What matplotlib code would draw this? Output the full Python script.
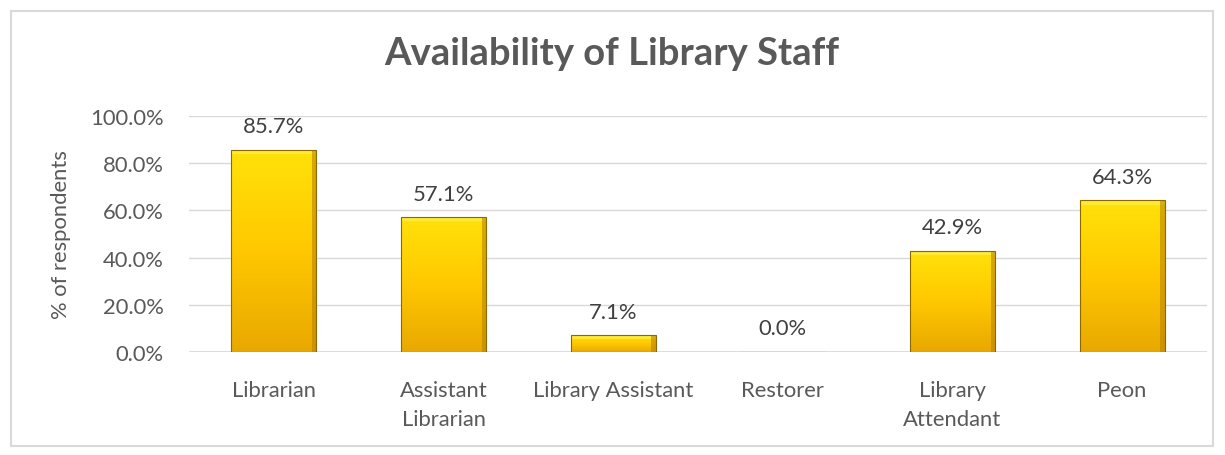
import matplotlib.pyplot as plt
from matplotlib.patches import Rectangle
from matplotlib.colors import LinearSegmentedColormap
import numpy as np

categories = ['Librarian', 'Assistant\nLibrarian', 'Library Assistant', 'Restorer', 'Library\nAttendant', 'Peon']
values = [85.7, 57.1, 7.1, 0.0, 42.9, 64.3]
yticks = [0, 20, 40, 60, 80, 100]

plt.rcParams['font.family'] = ['Lato', 'DejaVu Sans']

fig = plt.figure(figsize=(12.25, 4.56), dpi=100)
# light gray chart border
fig.patches.append(Rectangle((11 / 1225, 1 - 447 / 456), 1202 / 1225, 435 / 456,
                             transform=fig.transFigure, fill=False,
                             edgecolor='#D9D9D9', linewidth=1.5))

ax = fig.add_axes([189 / 1225, 1 - 353 / 456, 1018 / 1225, 236 / 456])
x = np.arange(len(categories))
width = 0.5

# gradient fill for each bar
grad = np.linspace(0, 1, 256).reshape(-1, 1)
cmap = LinearSegmentedColormap.from_list('gold', ['#E9A800', '#FFC800', '#FFE20A'])

bars = ax.bar(x, values, width=width, color='none', edgecolor='#8A6A00', linewidth=0.8, zorder=3)
for b, v in zip(bars, values):
    if v <= 0:
        continue
    x0 = b.get_x()
    im = ax.imshow(grad, extent=[x0, x0 + width, 0, v], origin='lower', cmap=cmap,
                   aspect='auto', zorder=2)
    im.set_clip_path(b)
    # bevel highlights
    h = min(1.8, v * 0.2)
    ax.add_patch(Rectangle((x0, v - h), width, h,
                           facecolor='#FFF04A', edgecolor='none', alpha=0.7, zorder=2.5))
    ax.add_patch(Rectangle((x0 + width - 0.025, 0), 0.025, v,
                           facecolor='#B98400', edgecolor='none', alpha=0.6, zorder=2.5))

for xi, v in zip(x, values):
    ax.text(xi, v + 10, f'{v:.1f}%', ha='center', va='center', fontsize=15.8, color='#404040')

ax.set_xlim(-0.5, len(categories) - 0.5)
ax.set_ylim(0, 100)
ax.set_yticks(yticks)
ax.set_yticklabels([f'{t:.1f}%' for t in yticks], fontsize=15.8, color='#595959')
ax.set_xticks(x)
ax.set_xticklabels(categories, fontsize=15.8, color='#595959', linespacing=1.6)
ax.tick_params(axis='y', length=0, pad=18)
ax.tick_params(axis='x', length=0, pad=20)
ax.grid(axis='y', color='#D9D9D9', linewidth=1, zorder=0)
for s in ax.spines.values():
    s.set_visible(False)
ax.axhline(0, color='#D9D9D9', linewidth=1.2, zorder=1)
ax.set_ylabel('% of respondents', fontsize=15.8, color='#595959', labelpad=14)

fig.text(612 / 1225, 1 - 65 / 456, 'Availability of Library Staff', ha='center', va='baseline',
         fontsize=27.5, fontweight='bold', color='#595959')

fig.savefig('out.png', dpi=100)
